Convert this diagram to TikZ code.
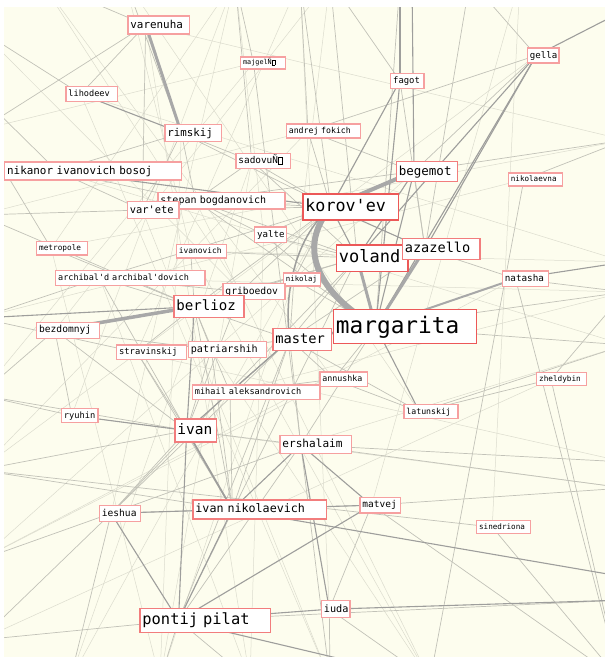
\documentclass[tikz,border=0pt]{standalone}
\usepackage{fontspec}
\setmainfont{DejaVu Sans Mono}
\pgfdeclarelayer{background}
\pgfsetlayers{background,main}
\definecolor{bgcream}{RGB}{253,253,238}
\definecolor{boxpink}{RGB}{246,160,160}
\definecolor{boxmid}{RGB}{242,125,125}
\definecolor{boxred}{RGB}{236,88,88}
\definecolor{edgefaint}{RGB}{220,220,206}
\definecolor{edgelight}{RGB}{194,194,184}
\definecolor{edgemid}{RGB}{158,158,156}
\definecolor{edgeheavy}{RGB}{168,168,168}
\newcommand\missglyph{{\fboxsep=0pt\fboxrule=.4pt\fbox{\rule{0pt}{.68em}\hspace{.42em}}}}
\newcommand\q{\textquotesingle}
\tikzset{
    lblbox/.style = {rectangle, draw=boxpink, fill=white, line width=1.3pt,
        anchor=west, align=left, inner xsep=2.5pt, inner ysep=0pt},
    lbl/.code 2 args = {\pgfmathsetmacro\lblht{0.8*#1}%
        \pgfmathsetmacro\lbldp{0.22*#1}%
        \pgfmathsetmacro\lblmin{1.4*#1+2.5}%
        \pgfkeysalso{lblbox, font=\fontsize{#1}{#1}\selectfont,
            text height=\lblht pt, text depth=\lbldp pt,
            minimum height=\lblmin pt, text width=#2 pt}},% label box: font size, text width
    char/.style n args = {4}{shape=coordinate,
        label={[lbl={#1}{#2}, draw=#3, xshift={-0.3*(#2+5)}]0:#4}},% character: hub point + its label box
    e_faint/.style = {draw=edgefaint, line width=.5pt},
    e_light/.style = {draw=edgelight, line width=.7pt},
    e_mid/.style = {draw=edgemid, line width=1.1pt},
    e_heavy/.style = {draw=edgeheavy},
}
\begin{document}
\begin{tikzpicture}[x=1pt,y=-1pt]
\useasboundingbox (0,0) rectangle (605,657);
% characters outside the frame
\coordinate (t1) at (40,-20);  \coordinate (t2) at (125,-20); \coordinate (t3) at (235,-20);
\coordinate (t4) at (300,-20); \coordinate (t5) at (330,-20); \coordinate (t6) at (400,-20);
\coordinate (t7) at (412,-20); \coordinate (t8) at (470,-20); \coordinate (t9) at (520,-20);
\coordinate (l1) at (-20,30);  \coordinate (l2) at (-20,95);  \coordinate (l3) at (-20,130);
\coordinate (l4) at (-20,215); \coordinate (l5) at (-20,318); \coordinate (l6) at (-20,395);
\coordinate (l7) at (-20,470); \coordinate (l8) at (-20,560); \coordinate (l9) at (-20,640);
\coordinate (r1) at (625,10);  \coordinate (r2) at (625,140); \coordinate (r3) at (625,262);
\coordinate (r4) at (625,292); \coordinate (r5) at (625,345); \coordinate (r6) at (625,462);
\coordinate (r7) at (625,488); \coordinate (r8) at (625,577); \coordinate (r9) at (625,600);
\coordinate (b1) at (70,680);  \coordinate (b2) at (160,680); \coordinate (b3) at (250,680);
\coordinate (b4) at (330,680); \coordinate (b5) at (430,680); \coordinate (b6) at (620,680);

% characters
\node[char={10.9}{56.4}{boxpink}{varenuha}] (varenuha) at (145.7,25) {};
\node[char={6.8}{40}{boxpink}{majgelÑ\missglyph}] (majgel) at (253.5,63) {};
\node[char={8.6}{46.4}{boxpink}{lihodeev}] (lihodeev) at (80.7,94) {};
\node[char={10.8}{51.7}{boxpink}{rimskij}] (rimskij) at (181.3,133) {};
\node[char={8.2}{69.3}{boxpink}{andrej fokich}] (andrej) at (308,131) {};
\node[char={8.9}{28.3}{boxpink}{fagot}] (fagot) at (400,80.8) {};
\node[char={9.1}{26.6}{boxpink}{gella}] (gella) at (536.2,55.5) {};
\node[char={9.4}{49.7}{boxpink}{sadovuÑ\missglyph}] (sadovu) at (251.7,161) {};
\node[char={12.5}{56}{boxmid}{begemot}] (begemot) at (414,171.5) {};
\node[char={7.6}{49}{boxpink}{nikolaevna}] (nikolaevna) at (523.9,179.5) {};
\node[char={10.9}{172}{boxpink}{nikanor ivanovich bosoj}] (nikanor) at (57.1,171) {};
\node[char={10}{122}{boxpink}{stepan bogdanovich}] (stepan) at (195.4,200.7) {};
\node[char={10.4}{46.6}{boxpink}{var\q ete}] (varete) at (142.2,210) {};
\node[char={16.7}{90.4}{boxred}{korov\q ev}] (korovev) at (330.9,207) {};
\node[char={9.1}{27}{boxpink}{yalte}] (yalte) at (263.6,234.7) {};
\node[char={7.9}{45}{boxpink}{ivanovich}] (ivanovich) at (190.7,251.2) {};
\node[char={7.75}{45.7}{boxpink}{metropole}] (metropole) at (51.2,248.3) {};
\node[char={17}{66.6}{boxred}{voland}] (voland) at (357.2,258) {};
\node[char={13.6}{72.6}{boxmid}{azazello}] (azazello) at (425,249) {};
\node[char={9.3}{41}{boxpink}{natasha}] (natasha) at (515.5,278.7) {};
\node[char={8.5}{144.3}{boxpink}{archibal\q d archibal\q dovich}] (archibald) at (99.8,278) {};
\node[char={7.4}{32.3}{boxpink}{nikolaj}] (nikolaj) at (293.9,279.5) {};
\node[char={9.7}{57}{boxpink}{griboedov}] (griboedov) at (240.9,291.5) {};
\node[char={14.1}{65}{boxmid}{berlioz}] (berlioz) at (194.3,306.7) {};
\node[char={9.6}{57.7}{boxpink}{bezdomnyj}] (bezdomnyj) at (54.8,330.2) {};
\node[char={22.8}{138.3}{boxred}{margarita}] (margarita) at (375.7,326.5) {};
\node[char={13.7}{53.4}{boxmid}{master}] (master) at (289.8,339.5) {};
\node[char={8.8}{64.7}{boxpink}{stravinskij}] (stravinskij) at (136.9,352.3) {};
\node[char={10.1}{73.3}{boxpink}{patriarshih}] (patriarshih) at (211.2,349.5) {};
\node[char={8.3}{42.4}{boxpink}{annushka}] (annushka) at (333.5,379.2) {};
\node[char={7.7}{45}{boxpink}{zheldybin}] (zheldybin) at (551,379.2) {};
\node[char={8.6}{122.6}{boxpink}{mihail aleksandrovich}] (mihail) at (230,392.3) {};
\node[char={8.2}{49}{boxpink}{latunskij}] (latunskij) at (419.5,411.8) {};
\node[char={8.7}{31.6}{boxpink}{ryuhin}] (ryuhin) at (71.7,415.5) {};
\node[char={14.5}{36.4}{boxmid}{ivan}] (ivan) at (186.7,430.5) {};
\node[char={11.1}{66.4}{boxpink}{ershalaim}] (ershalaim) at (300.7,444.7) {};
\node[char={9.6}{36.3}{boxpink}{ieshua}] (ieshua) at (111.1,513.3) {};
\node[char={11.7}{128.4}{boxmid}{ivan nikolaevich}] (ivannik) at (232.3,509.5) {};
\node[char={9.5}{35.7}{boxpink}{matvej}] (matvej) at (371.5,505.2) {};
\node[char={7.6}{49}{boxpink}{sinedriona}] (sinedriona) at (492.2,527) {};
\node[char={15.4}{125.7}{boxmid}{pontij pilat}] (pilat) at (178.5,620.5) {};
\node[char={10.2}{23.6}{boxpink}{iuda}] (iuda) at (329.3,609.2) {};

% ties between characters, drawn under the labels
\begin{pgfonlayer}{background}
\clip (4,7) rectangle (605,657);
\fill[bgcream] (4,7) rectangle (605,657);
\foreach \a/\b in {lihodeev/r3, metropole/r2, archibald/r4, ivanovich/b5, yalte/b3,
    nikolaj/b2, sadovu/b1, andrej/l4, majgel/l6, gella/l7, natasha/l8, zheldybin/l9,
    sinedriona/t9, nikolaevna/l5, latunskij/t2, annushka/t1, stravinskij/r6, ryuhin/r7,
    ieshua/t3, iuda/t4, matvej/t9, ershalaim/r5, varete/b4, stepan/b5, nikanor/r5,
    varenuha/b3, rimskij/b2, fagot/b1, begemot/l8, metropole/b2, ivanovich/t2,
    griboedov/t1, yalte/t3, nikolaj/t5, archibald/b3, mihail/r4, patriarshih/b5,
    lihodeev/b4, varenuha/r2, majgel/l3, andrej/l7, sadovu/b2, ivanovich/r3,
    metropole/t3, griboedov/l1, stravinskij/t4, annushka/l8, bezdomnyj/t5, ryuhin/t3}
    \draw[e_faint] (\a) -- (\b);
\foreach \a/\b in {berlioz/griboedov, berlioz/archibald, berlioz/stravinskij,
    berlioz/patriarshih, berlioz/mihail, berlioz/ivanovich, berlioz/voland,
    berlioz/korovev, berlioz/master, berlioz/ivannik, berlioz/metropole, berlioz/l4,
    ivan/patriarshih, ivan/stravinskij, ivan/mihail, ivan/bezdomnyj, ivan/griboedov,
    ivan/ershalaim, ivan/l6, ivan/l7, ivan/archibald, ivannik/stravinskij,
    ivannik/patriarshih, ivannik/l7, ivannik/mihail, master/annushka, master/voland,
    master/azazello, master/ivannik, master/ershalaim, master/latunskij, master/ieshua,
    master/pilat, master/nikolaj, margarita/annushka, margarita/r4, margarita/r5,
    margarita/nikolaj, margarita/ershalaim, margarita/stepan, margarita/t6,
    voland/stepan, voland/pilat, voland/ieshua, voland/t5, voland/griboedov,
    voland/azazello, korovev/stepan, korovev/sadovu, korovev/varete, korovev/yalte,
    korovev/t4, korovev/andrej, korovev/nikolaj, begemot/gella, begemot/andrej,
    begemot/r2, begemot/azazello, azazello/natasha, azazello/t8, azazello/fagot,
    rimskij/varete, rimskij/stepan, rimskij/sadovu, rimskij/t2, rimskij/nikanor,
    varenuha/lihodeev, varenuha/t1, varenuha/varete, varenuha/l3, nikanor/varete,
    nikanor/l2, nikanor/stepan, stepan/yalte, stepan/varete, stepan/sadovu, varete/l4,
    lihodeev/l1, griboedov/archibald, griboedov/korovev, bezdomnyj/ryuhin,
    bezdomnyj/l6, bezdomnyj/patriarshih, ryuhin/l6, ieshua/l8, ieshua/l9, ieshua/b1,
    ieshua/ershalaim, ieshua/matvej, pilat/b2, pilat/b3, pilat/l9, pilat/ershalaim,
    pilat/r9, iuda/matvej, iuda/b4, iuda/b5, matvej/b6, matvej/r7, ershalaim/r6,
    ershalaim/r7, latunskij/zheldybin, latunskij/r5, zheldybin/r4, zheldybin/b6,
    nikolaevna/r2, natasha/r4, gella/t8, gella/andrej, fagot/t5, majgel/t3, andrej/t4,
    sadovu/t3, yalte/voland, stravinskij/l5, patriarshih/master, mihail/annushka,
    annushka/latunskij, ieshua/ivan, sinedriona/b6, sinedriona/l7, natasha/b6,
    nikolaevna/b5, majgel/b4, metropole/l3, archibald/l5, rimskij/korovev,
    sadovu/voland, yalte/margarita, stepan/begemot, archibald/korovev, ivanovich/voland}
    \draw[e_light] (\a) -- (\b);
\foreach \a/\b in {nikanor/korovev, lihodeev/rimskij, margarita/latunskij,
    margarita/begemot, margarita/fagot, margarita/gella, azazello/gella, voland/gella,
    voland/korovev, azazello/korovev, ivan/ryuhin, ivan/pilat, ivan/master, ivan/berlioz,
    pilat/ieshua, pilat/ivannik, pilat/matvej, pilat/iuda, pilat/b5, iuda/r9,
    ieshua/ivannik, ivannik/matvej, ivannik/r8, ershalaim/iuda, ershalaim/matvej,
    ershalaim/ivannik, berlioz/l5, natasha/r3, begemot/voland, fagot/t6, gella/r1,
    master/mihail, korovev/fagot, begemot/t7}
    \draw[e_mid] (\a) -- (\b);
\draw[e_mid, line width=1.8pt] (ivan) -- (ivannik);
\draw[e_mid, line width=1.5pt] (korovev) .. controls (292,240) and (284,300) .. (master);
\draw[e_heavy, line width=6pt] (korovev) .. controls (285,262) and (345,310) .. (margarita);
\draw[e_heavy, line width=4pt] (korovev) -- (begemot);
\draw[e_heavy, line width=3pt] (varenuha) -- (rimskij);
\draw[e_heavy, line width=3.5pt] (berlioz) -- (bezdomnyj);
\draw[e_heavy, line width=3pt] (margarita) -- (voland);
\draw[e_heavy, line width=3pt] (margarita) -- (azazello);
\draw[e_heavy, line width=2.5pt] (margarita) -- (master);
\draw[e_heavy, line width=2pt] (margarita) -- (natasha);
\end{pgfonlayer}
\end{tikzpicture}
\end{document}
